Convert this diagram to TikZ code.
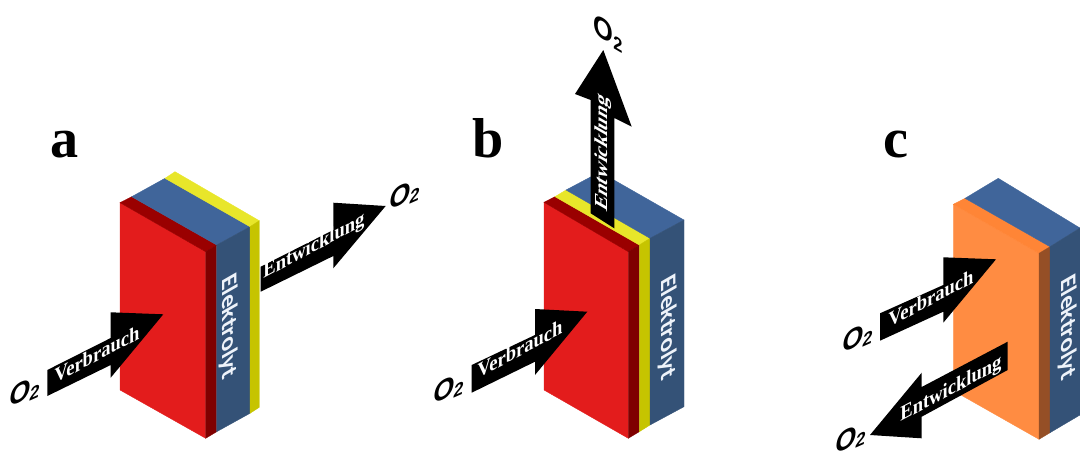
\documentclass[tikz,border=0pt]{standalone}
\usepackage{fontspec}
\usepackage{xcolor}
\usepackage{tikz}
\setmainfont{Liberation Serif}
\newfontfamily\gasfont{Liberation Sans}
\newfontfamily\elyfont{Carlito}
\definecolor{cellred}{HTML}{E31C1C}
\definecolor{cellredtop}{HTML}{9A0000}
\definecolor{cellredside}{HTML}{7F0000}
\definecolor{cellblue}{HTML}{40659A}
\definecolor{cellblueside}{HTML}{345277}
\definecolor{cellyellow}{HTML}{E8E62A}
\definecolor{cellyellowside}{HTML}{C6C400}
\definecolor{cellorange}{HTML}{FF8C42}
\definecolor{cellorangetop}{HTML}{FF8536}
\definecolor{cellorangeside}{HTML}{954F26}
\definecolor{elytext}{HTML}{EEF3FA}

\begin{document}
\begin{tikzpicture}[
  x=0.02cm,y=-0.02cm,
  face/.style={fill=#1,draw=#1,line width=0.2pt},
  panel/.style={font=\fontsize{32}{32}\selectfont\bfseries,inner sep=0pt,anchor=base},
  flowarrow/.style={fill=black},
  flowtext/.style={text=white,font=\fontsize{12}{13}\selectfont\bfseries,inner sep=0pt,transform shape},
  gas/.style={font=\gasfont\fontsize{17}{17}\selectfont\bfseries,inner sep=0pt,transform shape},
  ely/.style={text=elytext,font=\elyfont\fontsize{14.5}{15}\selectfont\bfseries,inner sep=0pt,transform shape}
]
  \clip (0,0) rectangle (1080,454);

  % a
  \fill[face=cellred] (120,202.7) -- (205.7,251.7) -- (205.7,438.3) -- (120,390) -- cycle;
  \fill[face=cellredtop] (120,202.7) -- (131.7,196.7) -- (216.7,245) -- (205.7,251.7) -- cycle;
  \fill[face=cellredside] (205.7,251.7) -- (216.7,245) -- (216.7,431.7) -- (205.7,438.3) -- cycle;
  \fill[face=cellblue] (131.7,196.7) -- (165,178.3) -- (250,226.7) -- (216.7,245) -- cycle;
  \fill[face=cellblueside] (216.7,245) -- (250,226.7) -- (250,413.3) -- (216.7,431.7) -- cycle;
  \fill[face=cellyellow] (165,178.3) -- (175,171.7) -- (259.3,220.7) -- (250,226.7) -- cycle;
  \fill[face=cellyellowside] (250,226.7) -- (259.3,220.7) -- (259.3,407.3) -- (250,413.3) -- cycle;
  \fill[flowarrow] (47.3,370) -- (110.7,338) -- (110.7,312.3) -- (163.3,314.3) -- (110.7,377.7) -- (110.7,365) -- (47.3,396) -- cycle;
  \fill[flowarrow] (260.7,266.7) -- (333.3,230) -- (333.3,202.7) -- (385.7,206) -- (333.3,268.3) -- (333.3,256) -- (260.7,291.7) -- cycle;
  \node[panel] (labela) at (65,157) {a};
  \node[ely,cm={0,-1,0.87,0.5,(229,327)}] (elya) at (0,0) {Elektrolyt};
  \node[flowtext,cm={0.88,0.47,0,1,(97,354)}] (verba) at (0,0) {Verbrauch};
  \node[flowtext,cm={0.88,0.47,0,1,(314,247)}] (entwa) at (0,0) {Entwicklung};
  \node[gas,cm={0.9,0.4,0.15,1,(25,392)}] (gasa) at (0,0) {O\raisebox{-2pt}{\fontsize{11}{11}\selectfont 2}};
  \node[gas,cm={0.9,0.4,0.15,1,(405,195)}] (gasaa) at (0,0) {O\raisebox{-2pt}{\fontsize{11}{11}\selectfont 2}};

  % b
  \fill[face=cellred] (544,202.3) -- (628.3,251.7) -- (628.3,438.3) -- (544,390) -- cycle;
  \fill[face=cellredtop] (544,202.3) -- (555,196.7) -- (639.3,245) -- (628.3,251.7) -- cycle;
  \fill[face=cellredside] (628.3,251.7) -- (639.3,245) -- (639.3,431.7) -- (628.3,438.3) -- cycle;
  \fill[face=cellyellow] (555,196.7) -- (566,190) -- (650,238.3) -- (639.3,245) -- cycle;
  \fill[face=cellyellowside] (639.3,245) -- (650,238.3) -- (650,425) -- (639.3,431.7) -- cycle;
  \fill[face=cellblue] (566,190) -- (600,172) -- (684,220) -- (650,238.3) -- cycle;
  \fill[face=cellblueside] (650,238.3) -- (684,220) -- (684,406.7) -- (650,425) -- cycle;
  \fill[flowarrow] (590.7,213.3) -- (590.7,100) -- (575,94) -- (603.3,50) -- (631.7,126.7) -- (614.3,118) -- (614.3,228.3) -- cycle;
  \fill[flowarrow] (471.7,365) -- (535,335) -- (535,309) -- (587.3,311.7) -- (535,375) -- (535,361.7) -- (471.7,392.7) -- cycle;
  \node[panel] (labelb) at (488,157) {b};
  \node[ely,cm={0,-1,0.87,0.5,(668,328)}] (elyb) at (0,0) {Elektrolyt};
  \node[flowtext,cm={0,1,-0.87,0.5,(603,153)}] (entwb) at (0,0) {Entwicklung};
  \node[flowtext,cm={0.88,0.47,0,1,(520,349)}] (verbb) at (0,0) {Verbrauch};
  \node[gas,cm={0.9,0.4,0.15,1,(449,389)}] (gasb) at (0,0) {O\raisebox{-2pt}{\fontsize{11}{11}\selectfont 2}};
  \node[gas,cm={0.85,-0.5,0,1,(608,33)}] (gasbb) at (0,0) {O\raisebox{-2pt}{\fontsize{11}{11}\selectfont 2}};

  % c
  \fill[face=cellorange] (953.3,204.3) -- (1039,253.3) -- (1039,439.3) -- (953.3,390.7) -- cycle;
  \fill[face=cellorangetop] (953.3,204.3) -- (965,198.3) -- (1050,246.7) -- (1039,253.3) -- cycle;
  \fill[face=cellorangeside] (1039,253.3) -- (1050,246.7) -- (1050,432.7) -- (1039,439.3) -- cycle;
  \fill[face=cellblue] (965,198.3) -- (998.3,178.3) -- (1080,228) -- (1050,246.7) -- cycle;
  \fill[face=cellblueside] (1050,246.7) -- (1080,228) -- (1080,415) -- (1050,432.7) -- cycle;
  \fill[flowarrow] (880,313.3) -- (943.3,285) -- (943.3,257.3) -- (996,259.3) -- (943.3,322.7) -- (943.3,311.7) -- (880,340.7) -- cycle;
  \fill[flowarrow] (1007.7,341.7) -- (921.7,387) -- (921.7,372.7) -- (870,435) -- (921.7,438.3) -- (921.7,416.7) -- (1007.7,370) -- cycle;
  \node[panel] (labelc) at (896,157) {c};
  \node[ely,cm={0,-1,0.87,0.5,(1068,328)}] (elyc) at (0,0) {Elektrolyt};
  \node[flowtext,cm={0.88,0.47,0,1,(931,298)}] (verbc) at (0,0) {Verbrauch};
  \node[flowtext,cm={0.88,0.47,0,1,(951,390)}] (entwc) at (0,0) {Entwicklung};
  \node[gas,cm={0.9,0.4,0.15,1,(858,338)}] (gasc) at (0,0) {O\raisebox{-2pt}{\fontsize{11}{11}\selectfont 2}};
  \node[gas,cm={0.9,0.4,0.15,1,(851,439)}] (gascc) at (0,0) {O\raisebox{-2pt}{\fontsize{11}{11}\selectfont 2}};
\end{tikzpicture}
\end{document}
